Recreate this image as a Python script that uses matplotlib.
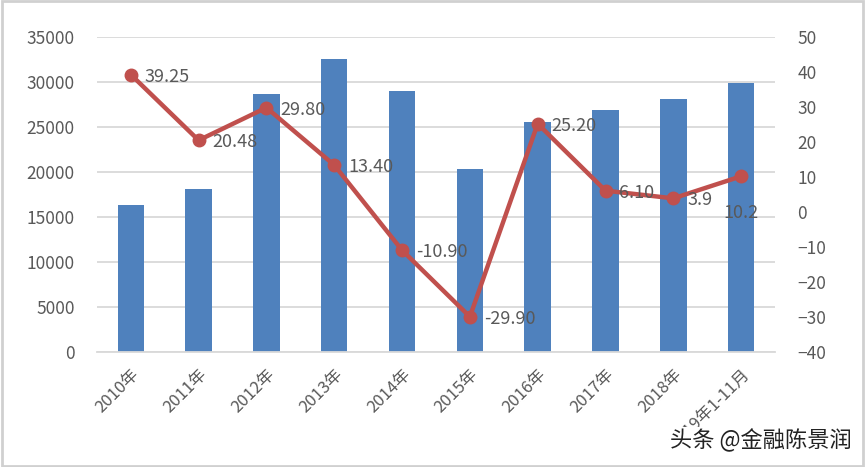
import matplotlib
matplotlib.use("Agg")
import matplotlib.pyplot as plt
from matplotlib.patches import Rectangle

plt.rcParams['font.family'] = ['Noto Sans CJK SC', 'DejaVu Sans']

years = ["2010年", "2011年", "2012年", "2013年", "2014年", "2015年",
         "2016年", "2017年", "2018年", "2019年1-11月"]
amount = [16300, 18100, 28700, 32550, 29000, 20300, 25550, 26900, 28100, 29900]
growth = [39.25, 20.48, 29.80, 13.40, -10.90, -29.90, 25.20, 6.10, 3.9, 10.2]
growth_labels = ["39.25", "20.48", "29.80", "13.40", "-10.90", "-29.90",
                 "25.20", "6.10", "3.9", "10.2"]

blue = "#4F81BD"
red = "#C0504D"
grey = "#595959"

fig = plt.figure(figsize=(8.65, 4.67), dpi=100)
ax = fig.add_axes([0.112, 0.246, 0.784, 0.675])
ax2 = ax.twinx()

x = range(len(years))
ax.bar(x, amount, width=0.39, color=blue, zorder=2)
ax.set_xlim(-0.5, len(years) - 0.5)
ax.set_ylim(0, 35000)
ax.set_yticks(range(0, 35001, 5000))
ax.grid(axis="y", color="#D9D9D9", linewidth=1.3, zorder=0)
ax.set_axisbelow(True)

ax2.plot(x, growth, color=red, linewidth=3.2, marker="o", markersize=9, zorder=3)
ax2.set_ylim(-40, 50)
ax2.set_yticks(range(-40, 51, 10))

for i, (v, lab) in enumerate(zip(growth, growth_labels)):
    if i == len(growth) - 1:
        ax2.annotate(lab, (i, v), xytext=(0, -37), textcoords="offset pixels",
                     ha="center", va="center", fontsize=13, color=grey)
    else:
        ax2.annotate(lab, (i, v), xytext=(14, -2), textcoords="offset pixels",
                     ha="left", va="center", fontsize=13, color=grey)

for a in (ax, ax2):
    for s in a.spines.values():
        s.set_visible(False)
    a.tick_params(length=0, labelsize=12.5, labelcolor=grey)
ax.spines["bottom"].set_visible(True)
ax.spines["bottom"].set_color("#D9D9D9")
ax.spines["bottom"].set_linewidth(1.3)
ax.tick_params(axis="y", pad=16)
ax2.tick_params(axis="y", pad=16)

ax.set_xticks(list(x))
ax.set_xticklabels(years, rotation=45, ha="right", rotation_mode="anchor",
                   fontsize=12, color=grey)
ax.tick_params(axis="x", pad=10)

fig.text(0.985, 0.058, "头条 @金融陈景润", ha="right", va="center", fontsize=16,
         color="#222222", bbox=dict(facecolor="white", edgecolor="none", pad=1))

fig.patches.append(Rectangle((0.002, 0.003), 0.996, 0.994, transform=fig.transFigure,
                             fill=False, edgecolor="#D0D0D0", linewidth=2))

fig.savefig("out.png", dpi=100)
